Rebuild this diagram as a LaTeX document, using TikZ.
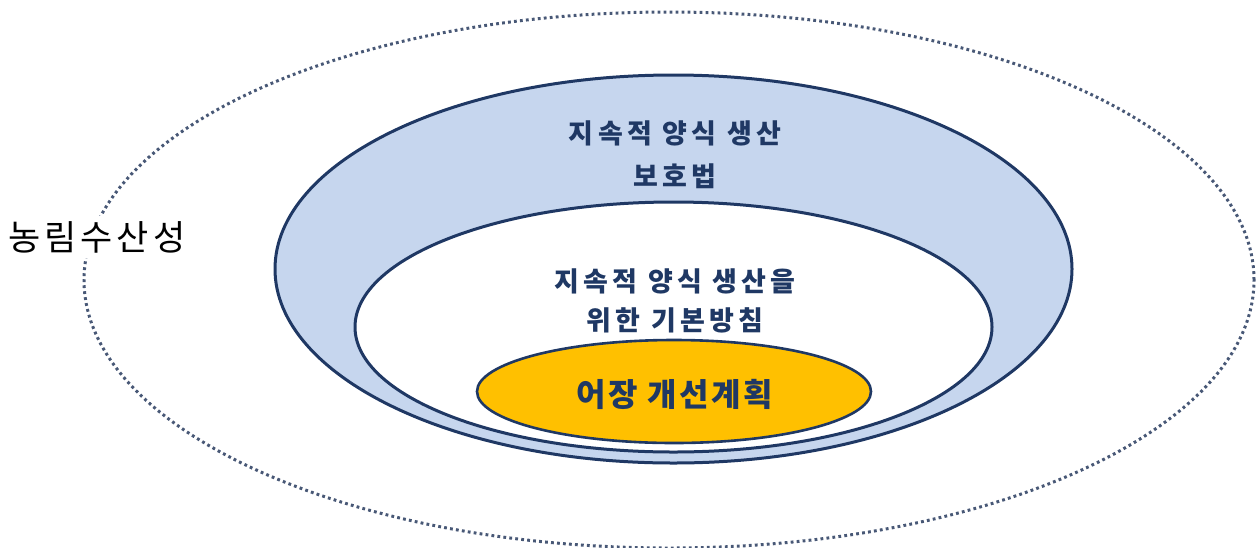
\documentclass[tikz,border=0pt]{standalone}
\usepackage{fontspec}
\setmainfont{Noto Sans CJK KR}
\newfontfamily\kr{Noto Sans CJK KR}
\newfontfamily\krband{Noto Sans CJK KR}[LetterSpace=16]
\newfontfamily\krplan{Noto Sans CJK KR}[LetterSpace=8]
\newfontfamily\krlabel{Noto Sans CJK KR}[LetterSpace=11]
\usetikzlibrary{shapes.geometric}
\definecolor{navy}{RGB}{31,56,100}
\definecolor{bandblue}{RGB}{198,214,238}
\definecolor{gold}{RGB}{255,192,0}
\definecolor{dotgray}{RGB}{72,88,118}
\tikzset{
  ring/.style={ellipse, draw=navy, line width=3pt, inner sep=0pt},
  dotring/.style={ellipse, draw=dotgray, line width=3pt, dash pattern=on 2.8pt off 3.2pt, inner sep=0pt},
  bandtext/.style={text=navy, font=\krband\bfseries\fontsize{27}{32}\selectfont, align=center, inner sep=0pt},
}
\begin{document}
\begin{tikzpicture}[x=1pt,y=-1pt]
\useasboundingbox (0,0) rectangle (1260,547);
\node[dotring, minimum width=1170pt, minimum height=536pt] (outer) at (669,280) {};
\node[ring, fill=bandblue, minimum width=797pt, minimum height=388pt] (prot) at (673.5,269) {};
\node[ring, fill=white, minimum width=637pt, minimum height=250pt] (basic) at (673.5,327) {};
\node[ring, line width=2.6pt, fill=gold, minimum width=394pt, minimum height=103pt] (plan) at (674,391.5) {};
\node[bandtext] (t1) at (675,133) {지속적 양식 생산};
\node[bandtext] (t2) at (675,176) {보호법};
\node[bandtext] (t3) at (675,281) {지속적 양식 생산을};
\node[bandtext] (t4) at (675,320) {위한 기본방침};
\node[bandtext, font=\krplan\bfseries\fontsize{32}{38}\selectfont] (t5) at (675,394) {어장 개선계획};
\node[fill=white, text=black, font=\krlabel\fontsize{35}{40}\selectfont, inner xsep=1pt, inner ysep=5pt] (label) at (97,237) {농림수산성};
\end{tikzpicture}
\end{document}
